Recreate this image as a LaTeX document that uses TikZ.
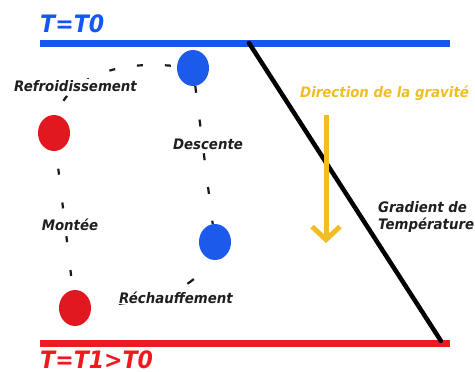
\documentclass[tikz,border=0pt]{standalone}
\usepackage{fontspec}
\newfontfamily\diagfont{DejaVu Sans}[FakeStretch=0.92]
\usetikzlibrary{arrows.meta,shapes.geometric}
\definecolor{plateBlue}{RGB}{22,86,244}
\definecolor{plateRed}{RGB}{240,26,30}
\definecolor{blobBlue}{RGB}{28,90,236}
\definecolor{blobRed}{RGB}{226,24,32}
\definecolor{gravYellow}{RGB}{240,190,32}
\tikzset{
  cellFont/.style={font=\diagfont\bfseries\itshape\fontsize{14.5}{17.4}\selectfont},
  plateFont/.style={font=\diagfont\bfseries\itshape\fontsize{24}{28}\selectfont},
  blob/.style={ellipse, minimum width=32pt, minimum height=36pt, inner sep=0pt, outer sep=0pt},
  blobBlueS/.style={blob, fill=blobBlue},
  blobRedS/.style={blob, fill=blobRed},
  plate/.style={line width=7pt},
  cellPath/.style={black!90, line width=2.2pt},
  cellLabel/.style={cellFont, fill=white, inner sep=1pt, text=black!88},
  gradLine/.style={black, line width=4.5pt, line cap=round},
  gravArrow/.style={gravYellow, line width=5pt,
    -{Straight Barb[length=13pt, width=28pt, line width=5pt]}},
}
\begin{document}
\begin{tikzpicture}[x=1pt, y=-1pt]
\useasboundingbox (0,0) rectangle (475,372);

% ============================================================
% Plates: cold on top, warm at the bottom
% ============================================================
\coordinate (plateTopW) at (40,43);
\coordinate (plateTopE) at (450,43);
\coordinate (plateBotW) at (40,343);
\coordinate (plateBotE) at (450,343);

\draw[plate, plateBlue] (plateTopW) -- (plateTopE);
\draw[plate, plateRed]  (plateBotW) -- (plateBotE);

\node[plateFont, text=plateBlue, anchor=base west, inner sep=0pt]
  (coldTxt) at (40,33) {T=T0};
\node[plateFont, text=plateRed, anchor=base west, inner sep=0pt]
  (warmTxt) at (40,368) {T=T1>T0};

% temperature gradient, plate to plate
\coordinate (gradTop) at (249,43);
\coordinate (gradBot) at (441,341);
\draw[gradLine] (gradTop) -- (gradBot);

\node[cellFont, text=black!88, anchor=north west, align=left, inner sep=0pt]
  (gradTxt) at (378,201) {Gradient de\\Température};

% gravity
\coordinate (gravTail) at (326,115);
\coordinate (gravHead) at (326,243);
\draw[gravArrow] (gravTail) -- (gravHead);
\node[cellFont, text=gravYellow, anchor=base west, inner sep=0pt]
  (gravTxt) at (300,97) {Direction de la gravité};

% ============================================================
% Convection cell: two warm and two cold parcels
% ============================================================
\node[blobRedS]  (warmUp)  at (54,133)  {};
\node[blobRedS]  (warmLow) at (75,308)  {};
\node[blobBlueS] (coldUp)  at (193,68)  {};
\node[blobBlueS] (coldLow) at (215,242) {};

\draw[cellPath, dash pattern=on 6pt off 28pt, dash phase=16pt]
  (warmUp) -- (warmLow);
\draw[cellPath, dash pattern=on 6pt off 22pt, dash phase=12pt]
  (warmUp) .. controls (62,90) and (100,58) .. (coldUp);
\draw[cellPath, dash pattern=on 7pt off 27pt]
  (coldUp) -- (coldLow);
\draw[cellPath, dash pattern=on 8pt off 28pt, dash phase=8pt]
  (warmLow) .. controls (150,302) and (196,292) .. (coldLow);

% labels sit on the dashes
\node[cellLabel, anchor=base] (refrTxt) at (75.5,91) {Refroidissement};
\node[cellLabel, anchor=base] (descTxt) at (208,149) {Descente};
\node[cellLabel, anchor=base] (montTxt) at (70,230)  {Montée};
\node[cellLabel, anchor=base] (rechTxt) at (176,303) {Réchauffement};

\end{tikzpicture}
\end{document}
